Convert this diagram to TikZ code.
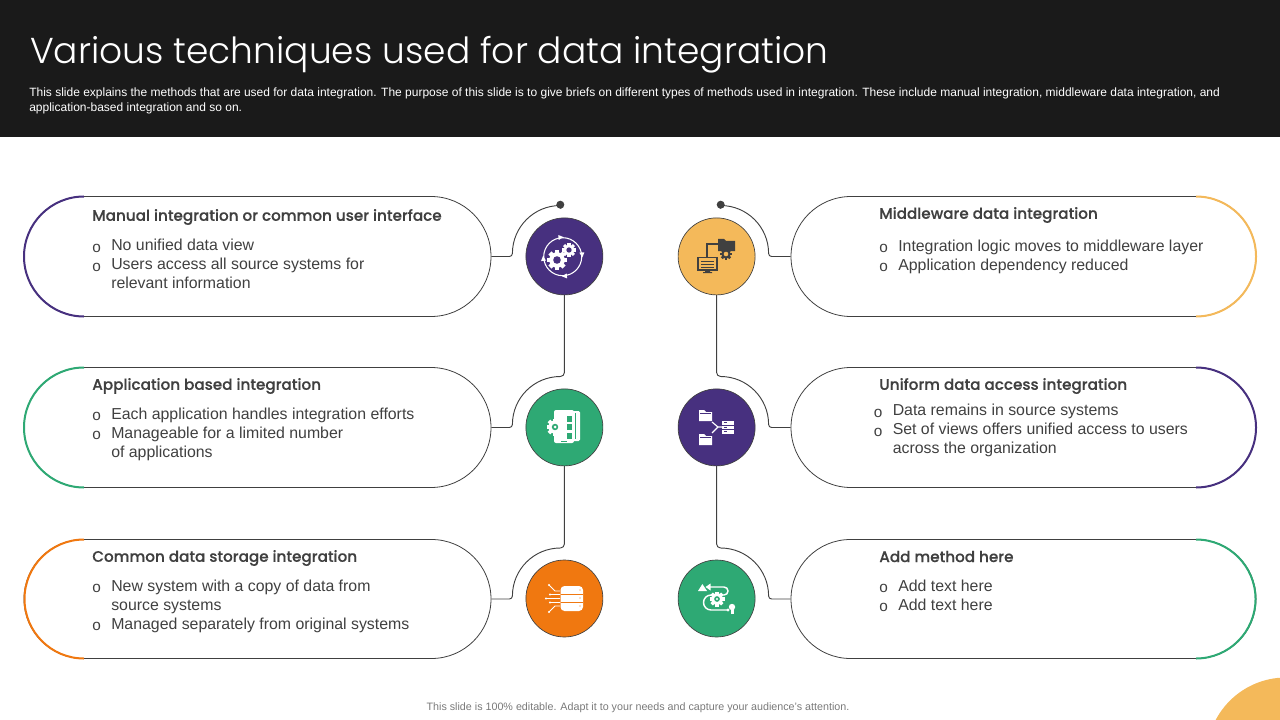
\documentclass[tikz,border=0pt]{standalone}
\usepackage{fontspec}
\usepackage{amsmath}
\setmainfont{Liberation Sans}
\newfontfamily\headfont{Poppins Light}
\newfontfamily\subfont{Poppins Medium}[FakeBold=0.3]
\usetikzlibrary{shapes.misc}

\definecolor{topbar}{HTML}{1A1A1A}
\definecolor{ink}{HTML}{404040}
\definecolor{mpurple}{HTML}{47307F}
\definecolor{myellow}{HTML}{F4B95A}
\definecolor{mgreen}{HTML}{2EA974}
\definecolor{morange}{HTML}{F07810}

\newcommand{\itm}{\makebox[14.25pt][l]{\raisebox{-1pt}{\fontsize{11.5}{11.5}\selectfont o}}}
\newcommand{\cnt}{\hspace*{14.25pt}}
% gear: x, y, radius, tooth colour, hole colour
\newcommand{\gearicon}[5]{
  \foreach \a in {0,45,...,315}
    \fill[#4, rotate around={\a:(#1,#2)}] (#1-#3*0.22,#2) rectangle (#1+#3*0.22,#2-#3);
  \fill[#4] (#1,#2) circle[radius=#3*0.78];
  \fill[#5] (#1,#2) circle[radius=#3*0.38];
}

\tikzset{
  pill/.style={draw=ink, line width=0.6pt, rounded rectangle, minimum width=467*0.75pt, minimum height=120*0.75pt, inner sep=0pt},
  hub/.style={circle, draw=ink, line width=0.5pt, minimum size=77*0.75pt, inner sep=0pt},
  wire/.style={draw=ink, line width=0.7pt},
  blob/.style={circle, fill=ink, minimum size=8*0.75pt, inner sep=0pt},
  headtxt/.style={anchor=west, inner sep=0pt, text=ink, font=\subfont\fontsize{11.4}{14}\selectfont},
  bodytxt/.style={anchor=north west, inner sep=0pt, align=left, text=ink, font=\fontsize{11.9}{14.25}\selectfont},
  edge1/.style={line width=1.5pt},
}

\begin{document}
\begin{tikzpicture}[x=0.75pt, y=-0.75pt]
\useasboundingbox (0,0) rectangle (1280,720);

% Top band
\fill[topbar] (0,0) rectangle (1280,137);
\node[anchor=west, inner sep=0pt, text=white, font=\headfont\fontsize{27}{32}\selectfont] (title) at (30,55) {Various techniques used for data integration};
\node[anchor=north west, inner sep=0pt, text=white, align=left, font=\fontsize{9}{10.9}\selectfont] (intro) at (29,88) {This slide explains the methods that are used for data integration. The purpose of this slide is to give briefs on different types of methods used in integration. These include manual integration, middleware data integration, and\\application-based integration and so on.};

% Corner
\begin{scope}
\clip (1180,660) rectangle (1280,720);
\fill[myellow] (1286,757) circle[radius=79.5];
\end{scope}
\node[anchor=center, inner sep=0pt, text=ink!70, font=\fontsize{8.04}{9}\selectfont] (foot) at (638,708) {This slide is 100\% editable. Adapt it to your needs and capture your audience's attention.};

% Define nodes
\node[pill] (manual) at (257.5,256.5) {};
\node[pill] (appl) at (257.5,427.5) {};
\node[pill, minimum height=119*0.75pt] (store) at (257.5,599) {};
\node[pill, minimum width=465*0.75pt] (middle) at (1023.5,256.5) {};
\node[pill, minimum width=465*0.75pt] (uniform) at (1023.5,427.5) {};
\node[pill, minimum width=465*0.75pt, minimum height=119*0.75pt] (addm) at (1023.5,599) {};

\node[hub, fill=mpurple] (hmanual) at (564.4,256.4) {};
\node[hub, fill=mgreen] (happl) at (564.4,427.4) {};
\node[hub, fill=morange] (hstore) at (564.4,598.5) {};
\node[hub, fill=myellow] (hmiddle) at (716.6,256.4) {};
\node[hub, fill=mpurple] (huniform) at (716.6,427.4) {};
\node[hub, fill=mgreen] (haddm) at (716.6,598.5) {};

\node[blob] (dotl) at (560.3,204.7) {};
\node[blob] (dotr) at (720.7,204.7) {};

% Coloured ends
\draw[edge1, mpurple] (84,196.5) arc[start angle=270, end angle=90, radius=60];
\draw[edge1, mgreen] (84,367.5) arc[start angle=270, end angle=90, radius=60];
\draw[edge1, morange] (84,539.5) arc[start angle=270, end angle=90, radius=59.5];
\draw[edge1, myellow] (1196,196.5) arc[start angle=-90, end angle=90, radius=60];
\draw[edge1, mpurple] (1196,367.5) arc[start angle=-90, end angle=90, radius=60];
\draw[edge1, mgreen] (1196,539.5) arc[start angle=-90, end angle=90, radius=59.5];

% Connect the nodes
\draw[wire] (manual.east) -- ++(18,0) arc[start angle=90, end angle=0, radius=3] arc[start angle=180, end angle=270, radius=48] -- (dotl);
\draw[wire] (appl.east) -- ++(18,0) arc[start angle=90, end angle=0, radius=3] arc[start angle=180, end angle=270, radius=48] arc[start angle=90, end angle=0, radius=4] -- (hmanual.south);
\draw[wire] (store.east) -- ++(18,0) arc[start angle=90, end angle=0, radius=3] arc[start angle=180, end angle=270, radius=48] arc[start angle=90, end angle=0, radius=4] -- (happl.south);
\draw[wire] (middle.west) -- ++(-19,0) arc[start angle=90, end angle=180, radius=3] arc[start angle=0, end angle=-90, radius=48] -- (dotr);
\draw[wire] (uniform.west) -- ++(-19,0) arc[start angle=90, end angle=180, radius=3] arc[start angle=0, end angle=-90, radius=48] arc[start angle=90, end angle=180, radius=4] -- (hmiddle.south);
\draw[wire] (addm.west) -- ++(-19,0) arc[start angle=90, end angle=180, radius=3] arc[start angle=0, end angle=-90, radius=48] arc[start angle=90, end angle=180, radius=4] -- (huniform.south);

% Texts
\node[headtxt] (t1) at (92,217) {Manual integration or common user interface};
\node[bodytxt] (b1) at (92,239) {\itm No unified data view\\\itm Users access all source systems for\\\cnt relevant information};
\node[headtxt] (t2) at (92,386) {Application based integration};
\node[bodytxt] (b2) at (92,407.5) {\itm Each application handles integration efforts\\\itm Manageable for a limited number\\\cnt of applications};
\node[headtxt] (t3) at (92,558) {Common data storage integration};
\node[bodytxt] (b3) at (92,579.5) {\itm New system with a copy of data from\\\cnt source systems\\\itm Managed separately from original systems};
\node[headtxt] (t4) at (879,215) {Middleware data integration};
\node[bodytxt] (b4) at (879,239.5) {\itm Integration logic moves to middleware layer\\\itm Application dependency reduced};
\node[headtxt] (t5) at (879,386) {Uniform data access integration};
\node[bodytxt] (b5) at (873.5,404) {\itm Data remains in source systems\\\itm Set of views offers unified access to users\\\cnt across the organization};
\node[headtxt] (t6) at (879,556.5) {Add method here};
\node[bodytxt] (b6) at (879,579.5) {\itm Add text here\\\itm Add text here};

% Icon gears and ring
\draw[white, line width=0.8pt] (562.7,256.7) circle[radius=19];
\foreach \a in {5,95,185,275}
  \fill[white, shift={(562.7,256.7)}, rotate=\a] (17,-2.5) -- (22,-2.5) -- (19.5,2.5) -- cycle;
\gearicon{557}{260}{10}{white}{mpurple}
\gearicon{569}{250}{7}{white}{mpurple}

% Icon folder and monitor
\draw[ink, line width=1.2pt] (707,257) -- (707,244) -- (720,244);
\fill[ink] (718,239) -- (724,239) -- (726,241) -- (735,241) -- (735,251) -- (718,251) -- cycle;
\gearicon{726}{254}{6}{ink}{myellow}
\draw[ink, line width=1pt] (698,257.5) rectangle (717,270);
\draw[ink, line width=0.5pt] (701,261) -- (714,261) (701,264) -- (714,264) (701,267) -- (714,267);
\fill[ink] (705,270) rectangle (710,272) (703,272) rectangle (712,273);

% Icon phone
\fill[white, rounded corners=1pt] (560,411) rectangle (580,441);
\fill[mgreen] (574.5,413) rectangle (575.5,439);
\fill[white, rounded corners=1.5pt] (554,410) rectangle (574,443);
\foreach \y in {419,427,436}
  \fill[mgreen] (566.5,\y-2.7) rectangle (571.5,\y+2.7);
\fill[mgreen] (551,416) rectangle (553,438);
\gearicon{555}{427}{8.5}{white}{mgreen}
\fill[white] (555,427) circle[radius=1.5];
\fill[mgreen] (561,440.5) rectangle (567,441.5);

% Icon folders and server
\foreach \y in {416,440}{
  \fill[white] (699,\y-6) -- (704,\y-6) -- (706,\y-4) -- (712,\y-4) -- (712,\y+5) -- (699,\y+5) -- cycle;
  \draw[mpurple, line width=0.4pt] (700,\y-2.5) -- (711,\y-2.5);
}
\draw[white, line width=0.9pt] (712,422) -- (718,427) -- (712,433) (718,427) -- (722,427);
\foreach \y in {424,428.5,433}{
  \fill[white] (722,\y-3) rectangle (734,\y+0.8);
  \fill[mpurple] (724,\y-1.6) rectangle (727,\y-0.6);
}

% Icon database
\fill[white, rounded corners=3pt] (560.5,586) rectangle (583,611);
\foreach \y in {594.5,602.5}
  \draw[morange, line width=0.7pt] (560.5,\y) -- (583,\y);
\foreach \y in {590,598,606}
  \fill[morange] (580,\y) circle[radius=0.7];
\draw[white, line width=0.7pt] (560,591) -- (555,591) -- (549,585) (560,594.5) -- (550,594.5) (560,598.5) -- (546,598.5) (560,602.5) -- (550,602.5) (560,606) -- (555,606) -- (549,612);
\foreach \x/\y in {549/585,550/594.5,546/598.5,550/602.5,549/612}
  \fill[white] (\x,\y) circle[radius=1.2];

% Icon cycle
\fill[white] (698,591) -- (707,591) -- (702.4,584) -- cycle;
\draw[white, line width=1.1pt] (708,587) -- (724,587) arc[start angle=-90, end angle=90, radius=4] -- (711,595) arc[start angle=270, end angle=90, radius=7.5] -- (727,610);
\fill[white] (705.5,587) -- (710.5,583.5) -- (710.5,590.5) -- cycle;
\fill[white] (728,610) circle[radius=1.6];
\gearicon{717}{599}{7.5}{white}{mgreen}
\fill[white] (717,599) circle[radius=1.2];
\fill[white] (732,607) circle[radius=3.2];
\fill[white] (730.5,609) rectangle (733.5,614);

\end{tikzpicture}
\end{document}
